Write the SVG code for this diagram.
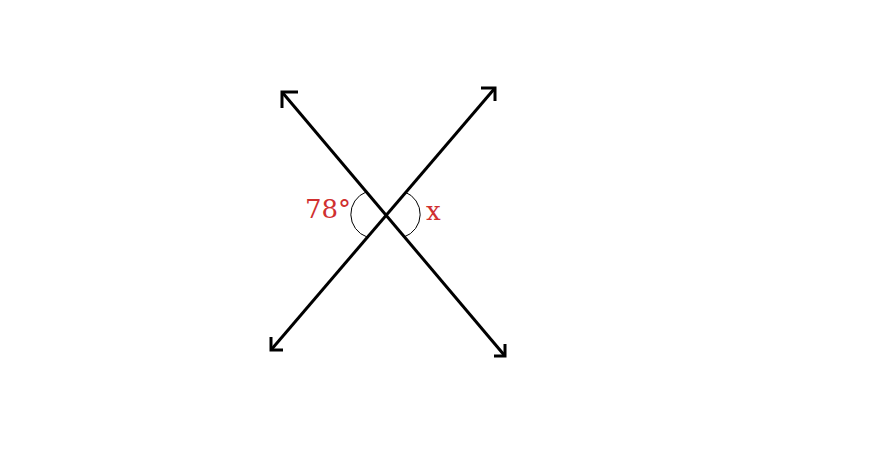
<svg xmlns="http://www.w3.org/2000/svg" width="883" height="464" viewBox="0 0 883 464">
<style>
.ln{stroke:#000;stroke-width:3;fill:none;stroke-linecap:butt}
.hd{stroke:#000;stroke-width:3;fill:none;stroke-linejoin:miter}
.arc{stroke:#000;stroke-width:1;fill:none}
.lbl{font-family:"DejaVu Serif","Liberation Serif",serif;font-size:26px;fill:#d03030}
</style>
<rect width="883" height="464" fill="#fff"/>
<g id="connectors">
<line class="ln" x1="282" y1="92" x2="505" y2="356"/>
<line class="ln" x1="495" y1="88" x2="271" y2="350"/>
<polyline class="hd" points="298,92 282,92 282,108"/>
<polyline class="hd" points="481,88 495,88 495,101"/>
<polyline class="hd" points="271,337 271,350 283,350"/>
<polyline class="hd" points="494,356 505,356 505,344"/>
</g>
<g id="angle-78">
<path class="arc" d="M366,192 A24,24 0 0 0 367,237"/>
<text class="lbl" x="305" y="218">78°</text>
</g>
<g id="angle-x">
<path class="arc" d="M405,192 A24,24 0 0 1 404,237"/>
<text class="lbl" x="426" y="220">x</text>
</g>
</svg>
